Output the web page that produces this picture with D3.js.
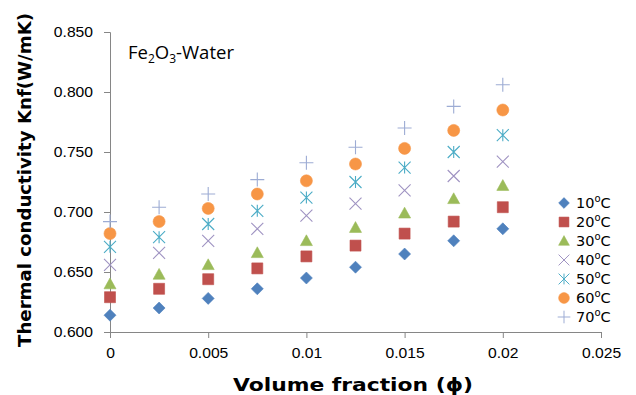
<!DOCTYPE html>
<html lang="en">
<head>
  <meta charset="UTF-8">
  <title>Fe2O3-Water thermal conductivity</title>
  <script src="https://d3js.org/d3.v7.min.js"></script>
  <style>
    * { margin: 0; padding: 0; }
    body { background: #fff; width: 636px; height: 395px; overflow: hidden; }
    svg { display: block; font-family: 'DejaVu Sans', Verdana, sans-serif; }
    .axis path, .axis line { stroke: #868686; }
    .axis text { fill: #000; font-size: 14.5px; }
  </style>
</head>
<body>
  <div id="chart"></div>
  <script>
    // volume fraction (x) and conductivity per temperature
    const phi = [0, 0.0025, 0.005, 0.0075, 0.01, 0.0125, 0.015, 0.0175, 0.02];
    const temps = ["10", "20", "30", "40", "50", "60", "70"];
    const k10 = [0.614, 0.620, 0.628, 0.636, 0.645, 0.654, 0.665, 0.676, 0.686];
    const k20 = [0.629, 0.636, 0.644, 0.653, 0.663, 0.672, 0.682, 0.692, 0.704];
    const k30 = [0.640, 0.648, 0.656, 0.666, 0.676, 0.687, 0.699, 0.711, 0.722];
    const k40 = [0.656, 0.666, 0.676, 0.686, 0.697, 0.707, 0.718, 0.730, 0.742];
    const k50 = [0.671, 0.679, 0.690, 0.701, 0.712, 0.725, 0.737, 0.750, 0.764];
    const k60 = [0.682, 0.692, 0.703, 0.715, 0.726, 0.740, 0.753, 0.768, 0.785];
    const k70 = [0.692, 0.704, 0.715, 0.727, 0.741, 0.754, 0.770, 0.788, 0.806];
    const xTicks = [0, 0.005, 0.01, 0.015, 0.02, 0.025];
    const yTicks = [0.6, 0.65, 0.7, 0.75, 0.8, 0.85];

    const series = [k10, k20, k30, k40, k50, k60, k70];
    const colors = ["#4f81bd", "#c0504d", "#9bbb59", "#9f93c2", "#4bacc6", "#f79646", "#9dacd4"];
    const shapes = ["diamond", "square", "triangle", "x", "star", "circle", "plus"];

    const width = 636, height = 395;
    const svg = d3.select("#chart").append("svg")
      .attr("width", width).attr("height", height);

    const x = d3.scaleLinear().domain([0, 0.025]).range([110, 601]);
    const y = d3.scaleLinear().domain([0.6, 0.85]).range([332, 32]);
    const sx = 1.08; // reference tick font is a bit wider

    // y axis
    svg.append("g").attr("class", "axis")
      .attr("transform", "translate(110,0)")
      .call(d3.axisLeft(y).tickValues(yTicks).tickFormat(d3.format(".3f")).tickSizeOuter(0).tickSize(6).tickPadding(11))
      .call(g => g.selectAll("text").attr("x", -17 / sx).attr("transform", `scale(${sx},1)`));

    // x axis
    svg.append("g").attr("class", "axis")
      .attr("transform", "translate(0,332)")
      .call(d3.axisBottom(x).tickValues(xTicks).tickFormat(d => d === 0 ? "0" : String(+d.toFixed(3)))
        .tickSizeOuter(0).tickSize(6).tickPadding(10))
      .call(g => g.selectAll("text").attr("font-size", 15).attr("transform", `scale(${sx},1)`));

    // marker path
    function marker(shape, s) {
      const h = s / 2;
      switch (shape) {
        case "diamond": return `M0,${-h}L${h},0L0,${h}L${-h},0Z`;
        case "square": return `M${-h},${-h}H${h}V${h}H${-h}Z`;
        case "triangle": return `M0,${-h}L${h},${h * 0.8}L${-h},${h * 0.8}Z`;
        case "circle": return d3.symbol(d3.symbolCircle, Math.PI * h * h)();
        case "x": return `M${-h},${-h}L${h},${h}M${h},${-h}L${-h},${h}`;
        case "plus": return `M${-h},0H${h}M0,${-h}V${h}`;
        case "star": return `M${-h},${-h}L${h},${h}M${h},${-h}L${-h},${h}M0,${-h}V${h}`;
      }
    }
    const sizes = { diamond: 12, square: 11, triangle: 12, circle: 12, x: 12, plus: 14, star: 12 };
    const filled = s => !(s === "x" || s === "plus" || s === "star");

    function drawMarker(g, shape, color) {
      g.append("path")
        .attr("d", marker(shape, sizes[shape]))
        .attr("fill", filled(shape) ? color : "none")
        .attr("stroke", color)
        .attr("stroke-width", filled(shape) ? 0.6 : 1.1);
    }

    series.forEach((vals, i) => {
      vals.forEach((v, j) => {
        const g = svg.append("g").attr("transform", `translate(${x(phi[j])},${y(v)})`);
        drawMarker(g, shapes[i], colors[i]);
      });
    });

    // legend
    const legend = svg.append("g").attr("transform", "translate(564,203)");
    temps.forEach((t, i) => {
      const row = legend.append("g").attr("transform", `translate(0,${i * 19})`);
      const mg = row.append("g").attr("transform", "scale(0.9)");
      drawMarker(mg, shapes[i], colors[i]);
      const txt = row.append("text").attr("x", 12).attr("y", 5)
        .attr("font-size", 14.5).attr("fill", "#000");
      txt.append("tspan").text(t);
      txt.append("tspan").attr("font-size", 10).attr("dy", -6).text("o");
      txt.append("tspan").attr("dy", 6).text("C");
    });

    // inner title
    const title = svg.append("text").attr("x", 128).attr("y", 59)
      .attr("font-family", "'Open Sans', sans-serif").attr("font-size", 18.5).attr("fill", "#000");
    title.append("tspan").text("Fe");
    title.append("tspan").attr("font-size", 12).attr("dy", 4).text("2");
    title.append("tspan").attr("dy", -4).text("O");
    title.append("tspan").attr("font-size", 12).attr("dy", 4).text("3");
    title.append("tspan").attr("dy", -4).text("-Water");

    // axis titles
    svg.append("text").attr("x", 353).attr("y", 391)
      .attr("text-anchor", "middle").attr("font-weight", "bold").attr("font-size", 18)
      .attr("textLength", 240).attr("lengthAdjust", "spacingAndGlyphs")
      .text("Volume fraction (\u03d5)");
    svg.append("text")
      .attr("transform", "translate(31,180) rotate(-90)")
      .attr("text-anchor", "middle").attr("font-weight", "bold").attr("font-size", 17)
      .attr("textLength", 334).attr("lengthAdjust", "spacingAndGlyphs")
      .text("Thermal conductivity Knf(W/mK)");
  </script>
</body>
</html>
